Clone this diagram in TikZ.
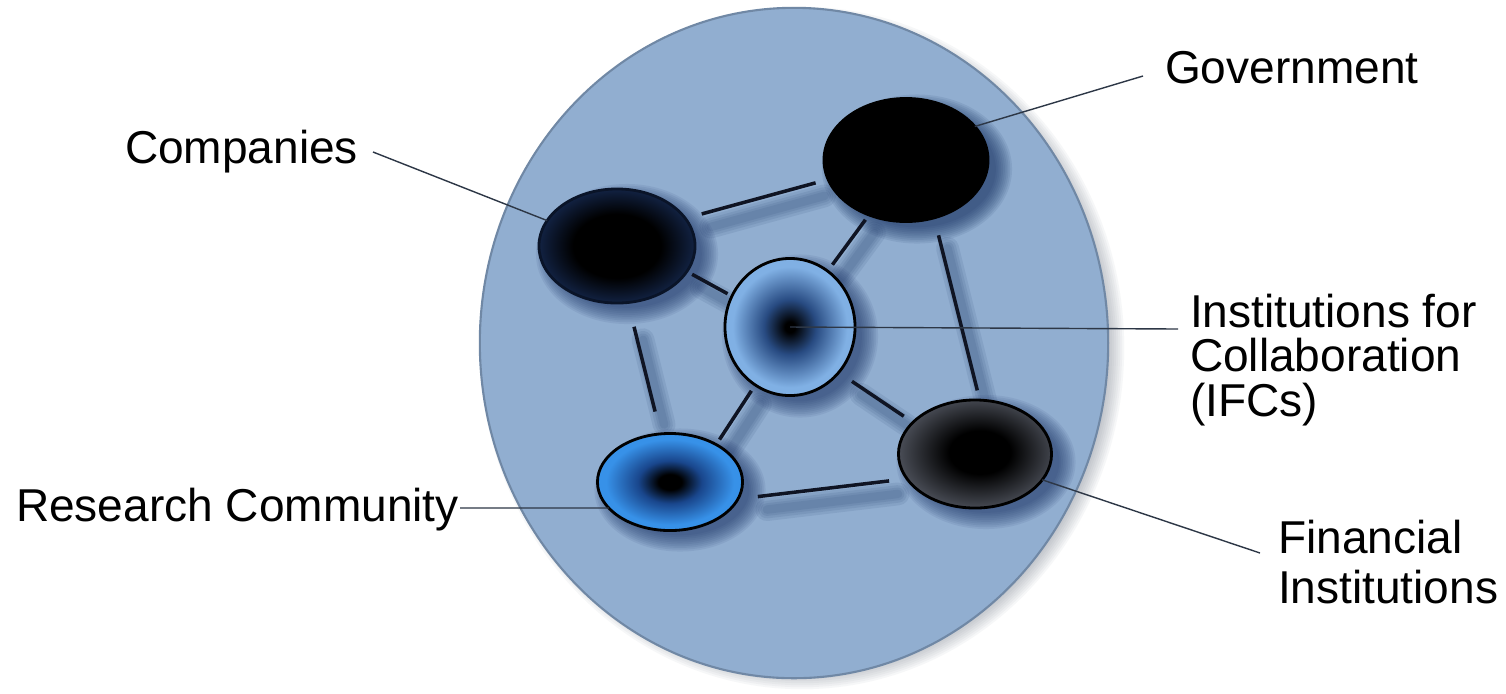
\documentclass[tikz,border=0pt]{standalone}
\usepackage{fontspec}
\setmainfont{Liberation Sans}
\usetikzlibrary{shapes.geometric,calc}
\pgfdeclarelayer{back}
\pgfdeclarelayer{bg}
\pgfsetlayers{back,bg,main}
\definecolor{bgblue}{RGB}{145,174,208}
\definecolor{bgedge}{RGB}{112,136,165}
\definecolor{shblue}{RGB}{20,45,95}
\definecolor{shgray}{RGB}{95,105,118}
\definecolor{linecol}{RGB}{15,20,35}
\definecolor{leadcol}{RGB}{45,55,70}
\definecolor{compout}{RGB}{24,46,90}
\definecolor{ifcout}{RGB}{128,176,228}
\definecolor{ifcmid}{RGB}{40,75,130}
\definecolor{resout}{RGB}{55,145,232}
\definecolor{resmid}{RGB}{25,70,140}
\definecolor{finout}{RGB}{78,82,92}
\pgfdeclareradialshading{compshade}{\pgfpoint{0bp}{0bp}}{color(0bp)=(black);color(14bp)=(black);color(29bp)=(compout);color(50bp)=(compout)}
\pgfdeclareradialshading{ifcshade}{\pgfpoint{0bp}{0bp}}{color(0bp)=(black);color(2bp)=(black);color(10bp)=(ifcmid);color(22bp)=(ifcout);color(50bp)=(ifcout)}
\pgfdeclareradialshading{resshade}{\pgfpoint{0bp}{0bp}}{color(0bp)=(black);color(4bp)=(black);color(11bp)=(resmid);color(22bp)=(resout);color(50bp)=(resout)}
\pgfdeclareradialshading{finshade}{\pgfpoint{2bp}{1bp}}{color(0bp)=(black);color(10bp)=(black);color(27bp)=(finout);color(50bp)=(finout)}
\newcommand\blurshadow[5]{%
  \foreach \k in {0,...,9}{%
    \fill[#4, opacity=#5] (#1) ellipse [x radius={(#2+0.13-0.018*\k)*1cm}, y radius={(#3+0.13-0.018*\k)*1cm}];}}
\begin{document}
\begin{tikzpicture}[x=0.01cm, y=-0.01cm,
  actor/.style={ellipse, inner sep=0pt, outer sep=0pt, line width=0.8pt, draw=black},
  disc/.style={ellipse, inner sep=0pt, outer sep=0pt, minimum width=6.28cm, minimum height=6.70cm, fill=bgblue, draw=bgedge, line width=0.6pt},
  link/.style={draw=linecol, line width=1pt},
  linkshadow/.style={draw=shblue, opacity=0.09, line cap=round},
  leader/.style={draw=leadcol, line width=0.4pt},
  lab/.style={font=\fontsize{13.1pt}{12.66pt}\selectfont, inner sep=0pt, outer sep=0pt, text=black, align=left}]
\useasboundingbox (0,0) rectangle (1506,693);

\begin{pgfonlayer}{back}
  \fill[white] (0,0) rectangle (1506,693);
  \coordinate (discc) at (794,343);
  \foreach \k in {0,...,7}{%
    \fill[shgray, opacity=0.05] ($(discc)+(8,5)$) ellipse [x radius={(3.14+0.08-0.02*\k)*1cm}, y radius={(3.35+0.06-0.02*\k)*1cm}];}
  \node[disc] (disc) at (discc) {};
\end{pgfonlayer}

% actors
\node[actor, fill=black, minimum width=1.64cm, minimum height=1.23cm] (gov) at (906,160) {};
\node[actor, draw={rgb,255:red,10;green,20;blue,40}, shade, shading=compshade, minimum width=1.56cm, minimum height=1.14cm] (comp) at (617,246) {};
\node[actor, shade, shading=ifcshade, minimum width=1.30cm, minimum height=1.37cm] (ifc) at (790,327) {};
\node[actor, shade, shading=resshade, minimum width=1.45cm, minimum height=0.97cm] (res) at (670,482) {};
\node[actor, shade, shading=finshade, minimum width=1.53cm, minimum height=1.08cm] (fin) at (975,454) {};

% shadows
\begin{pgfonlayer}{bg}
  \blurshadow{$(gov)+(11,9)$}{0.82}{0.615}{shblue}{0.09}
  \blurshadow{$(comp)+(10,8)$}{0.78}{0.57}{shblue}{0.08}
  \blurshadow{$(ifc)+(10,9)$}{0.65}{0.685}{shblue}{0.08}
  \blurshadow{$(res)+(10,8)$}{0.725}{0.485}{shblue}{0.08}
  \blurshadow{$(fin)+(11,8)$}{0.765}{0.54}{shblue}{0.08}
  \foreach \a/\aa/\b/\bb/\sa/\sb in {comp/22/gov/194/1.7/1.3, gov/236/ifc/56/0.6/0.8, comp/-20/ifc/152/0.6/0.5, gov/-64/fin/85/1.8/1.0, comp/-79/res/101/2.5/2.3, ifc/239/res/39/0.7/0.6, ifc/-43/fin/153/1.6/1.1, res/-14/fin/200/2.0/1.8}{%
    \foreach \w in {6.5,5,3.6,2.4}{%
      \draw[linkshadow, line width=\w pt, transform canvas={shift={(9,13)}}, shorten <=\sa mm, shorten >=\sb mm] (\a.\aa) -- (\b.\bb);}}
\end{pgfonlayer}

% links
\foreach \a/\aa/\b/\bb/\sa/\sb in {comp/22/gov/194/1.7/1.3, gov/236/ifc/56/0.6/0.8, comp/-20/ifc/152/0.6/0.5, gov/-64/fin/85/1.8/1.0, comp/-79/res/101/2.5/2.3, ifc/239/res/39/0.7/0.6, ifc/-43/fin/153/1.6/1.1, res/-14/fin/200/2.0/1.8}{%
  \draw[link, shorten <=\sa mm, shorten >=\sb mm] (\a.\aa) -- (\b.\bb);}

% labels
\node[lab, anchor=base west] (complab) at (125,163) {Companies};
\node[lab, anchor=base west] (govlab) at (1165,83) {Government};
\node[lab, anchor=base west] (reslab) at (16,521) {Research Community};
\node[lab, anchor=north west] (ifclab) at (1190,294) {Institutions for\\Collaboration\\(IFCs)};
\node[lab, anchor=north west, font=\fontsize{13.1pt}{14.2pt}\selectfont] (finlab) at (1278,520) {Financial\\Institutions};

% leaders
\coordinate (complead) at (373,152);
\coordinate (govlead) at (1143,76);
\coordinate (ifclead) at (1178,329);
\coordinate (reslead) at (460,508);
\coordinate (finlead) at (1260,553);
\draw[leader] (complead) -- (comp.160);
\draw[leader] (govlead) -- (gov.26);
\draw[leader] (ifc.center) -- (ifclead);
\draw[leader] (reslead) -- (res.203);
\draw[leader] (fin.-21) -- (finlead);
\end{tikzpicture}
\end{document}
